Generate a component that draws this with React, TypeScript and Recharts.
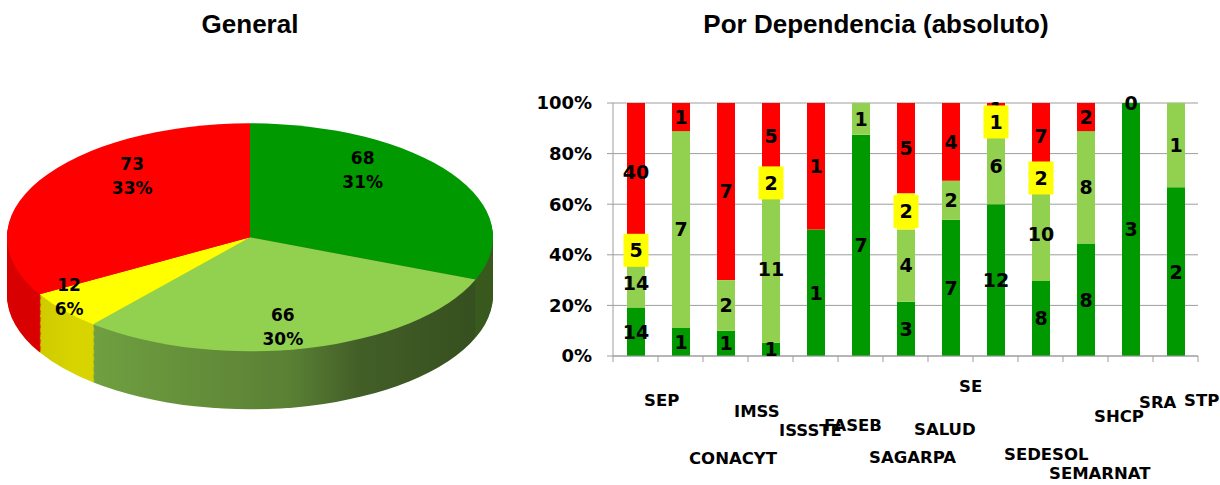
import React from 'react';
import { PieChart, Pie, Cell, BarChart, Bar, XAxis, YAxis, CartesianGrid, LabelList } from 'recharts';

// ---------- Data: "General" ----------
const pieNames = ['Cumple', 'Cumple parcialmente', 'En proceso', 'No cumple'];
const pieValues = [68, 66, 12, 73];
const piePercentLabels = ['31%', '30%', '6%', '33%'];

// ---------- Data: "Por Dependencia (absoluto)" ----------
const categories = ['SEP', 'CONACYT', 'IMSS', 'ISSSTE', 'FASEB', 'SAGARPA', 'SALUD', 'SE', 'SEDESOL', 'SEMARNAT', 'SHCP', 'SRA', 'STP'];
const cumple = [14, 1, 1, 1, 1, 7, 3, 7, 12, 8, 8, 3, 2];
const parcial = [14, 7, 2, 11, null, 1, 4, 2, 6, 10, 8, null, 1];
const enProceso = [5, null, null, 2, null, null, 2, null, 1, 2, null, null, null];
const noCumple = [40, 1, 7, 5, 1, null, 5, 4, 1, 7, 2, 0, null];
const yTicks = [0, 0.2, 0.4, 0.6, 0.8, 1];

// ---------- Styles ----------
const GREEN = '#009900';
const LIGHT = '#92d050';
const YELLOW = '#ffff00';
const RED = '#ff0000';
const AXIS_GRAY = '#9d9d9d';
const TOP_COLORS = [GREEN, LIGHT, YELLOW, RED];
const SIDE_COLORS = ['#3a5a1f', 'url(#sideLight)', 'url(#sideYellow)', '#d80000'];
const FONT = '"DejaVu Sans", "Noto Sans", sans-serif';

const pieData = pieNames.map((name, i) => ({ name, value: pieValues[i] }));
const barData = categories.map((name, i) => ({
  name,
  cumple: cumple[i],
  parcial: parcial[i],
  enProceso: enProceso[i],
  noCumple: noCumple[i],
}));

// ---------- Pie geometry (pseudo 3D: squashed + extruded) ----------
const PIE_R = 243;
const PIE_CX = 250;
const PIE_CY = 250;
const SQUASH = 114 / 243;
const PIE_SCREEN_CY = 237;
const PIE_TOP = PIE_SCREEN_CY - PIE_CY * SQUASH;
const DEPTH = 58 / SQUASH;
const LAYERS = 50;
const layerOffsets = Array.from({ length: LAYERS }, (_, i) => (DEPTH * (LAYERS - i)) / LAYERS);
const LABEL_LIFT = 10;

const renderPieLabel = (props: any) => {
  const { cx, cy, midAngle, outerRadius, percent, index, value } = props;
  const rad = (midAngle * Math.PI) / 180;
  const small = percent < 0.1;
  const fx = small ? 0.97 : 0.56;
  const fy = small ? 0.95 : 0.9;
  const X = cx + fx * outerRadius * Math.cos(rad);
  const Y = cy - fy * outerRadius * Math.sin(rad) - LABEL_LIFT / SQUASH;
  return (
    <text
      key={`pl-${index}`}
      transform={`translate(${X},${Y}) scale(1,${1 / SQUASH})`}
      textAnchor="middle"
      fill="#000"
      fontFamily={FONT}
      fontWeight="bold"
      fontSize={17}
    >
      <tspan x={0} y={-6}>{value}</tspan>
      <tspan x={0} y={18}>{piePercentLabels[index]}</tspan>
    </text>
  );
};

// ---------- Bar labels ----------
const renderSegLabel = (props: any) => {
  const { x, y, width, height, value } = props;
  if (value === null || value === undefined) return null;
  const cx = Number(x) + Number(width) / 2;
  const cy = Number(y) + Number(height) / 2;
  return (
    <text x={cx} y={cy} dy="0.36em" textAnchor="middle" fill="#000" fontFamily={FONT} fontWeight="bold" fontSize={19}>
      {value}
    </text>
  );
};

const renderBoxLabel = (props: any) => {
  const { x, y, width, height, value } = props;
  if (value === null || value === undefined) return null;
  const cx = Number(x) + Number(width) / 2;
  const cy = Number(y) + Number(height) / 2;
  return (
    <g>
      <rect x={cx - 12.5} y={cy - 16.5} width={25} height={33} fill={YELLOW} />
      <text x={cx} y={cy} dy="0.36em" textAnchor="middle" fill="#000" fontFamily={FONT} fontWeight="bold" fontSize={19}>
        {value}
      </text>
    </g>
  );
};

// ---------- X axis tick ----------
let measureCtx: CanvasRenderingContext2D | null = null;
const X_FONT_SIZE = 16.5;
function textWidth(s: string): number {
  if (!measureCtx) measureCtx = document.createElement('canvas').getContext('2d');
  if (!measureCtx) return s.length * 11;
  measureCtx.font = `bold ${X_FONT_SIZE}px "DejaVu Sans"`;
  return measureCtx.measureText(s).width;
}
const BAND_FALLBACK = 45;

const CategoryTick = (props: any) => {
  const { x, y, payload, index } = props;
  const half = payload && payload.offset ? payload.offset : BAND_FALLBACK / 2;
  const label = String(payload.value);
  const w = textWidth(label);
  const centerY = y + 5 + w * 1.1;
  return (
    <g>
      <line x1={x - half} x2={x - half} y1={y} y2={y + 6} stroke={AXIS_GRAY} />
      {index === categories.length - 1 && <line x1={x + half} x2={x + half} y1={y} y2={y + 6} stroke={AXIS_GRAY} />}
      <text x={x + 8.5} y={centerY} dy="0.36em" textAnchor="start" fill="#000" fontFamily={FONT} fontWeight="bold" fontSize={X_FONT_SIZE}>
        {label}
      </text>
    </g>
  );
};

const titleStyle = (center: number): React.CSSProperties => ({
  position: 'absolute',
  left: center - 300,
  width: 600,
  top: 11,
  textAlign: 'center',
  fontFamily: '"Liberation Sans", Arial, sans-serif',
  fontWeight: 'bold',
  fontSize: 26,
  lineHeight: '26px',
  color: '#000',
});

export default function App() {
  return (
    <div style={{ position: 'absolute', left: 0, top: 0, width: 1220, height: 485, background: '#fff', overflow: 'hidden' }}>
      <div style={titleStyle(250)}>General</div>
      <div style={titleStyle(876)}>Por Dependencia (absoluto)</div>

      <div
        style={{
          position: 'absolute',
          left: 0,
          top: PIE_TOP,
          width: 500,
          height: 640,
          transform: `scaleY(${SQUASH})`,
          transformOrigin: '0 0',
        }}
      >
        <PieChart width={500} height={640} margin={{ top: 0, right: 0, bottom: 0, left: 0 }}>
          <defs>
            <linearGradient id="sideLight" gradientUnits="userSpaceOnUse" x1={70} y1={0} x2={470} y2={0}>
              <stop offset="0" stopColor="#72a342" />
              <stop offset="0.55" stopColor="#5a8034" />
              <stop offset="0.72" stopColor="#435f28" />
              <stop offset="1" stopColor="#37501f" />
            </linearGradient>
            <linearGradient id="sideYellow" gradientUnits="userSpaceOnUse" x1={20} y1={0} x2={75} y2={0}>
              <stop offset="0" stopColor="#c9c600" />
              <stop offset="1" stopColor="#d8d400" />
            </linearGradient>
          </defs>
          {layerOffsets.map((off, li) => (
            <Pie
              key={`layer-${li}`}
              data={pieData}
              dataKey="value"
              nameKey="name"
              cx={PIE_CX}
              cy={PIE_CY + off}
              outerRadius={PIE_R}
              innerRadius={0}
              startAngle={90}
              endAngle={-270}
              stroke="none"
              isAnimationActive={false}
              labelLine={false}
            >
              {pieData.map((d, i) => (
                <Cell key={`s-${li}-${i}`} fill={SIDE_COLORS[i]} stroke="none" />
              ))}
            </Pie>
          ))}
          <Pie
            data={pieData}
            dataKey="value"
            nameKey="name"
            cx={PIE_CX}
            cy={PIE_CY}
            outerRadius={PIE_R}
            innerRadius={0}
            startAngle={90}
            endAngle={-270}
            stroke="none"
            isAnimationActive={false}
            labelLine={false}
            label={renderPieLabel}
          >
            {pieData.map((d, i) => (
              <Cell key={`t-${i}`} fill={TOP_COLORS[i]} stroke="none" />
            ))}
          </Pie>
        </PieChart>
      </div>

      <div style={{ position: 'absolute', left: 520, top: 0 }}>
        <BarChart
          width={700}
          height={485}
          data={barData}
          stackOffset="expand"
          barSize={18}
          margin={{ top: 103, right: 22, bottom: 0, left: 0 }}
        >
          <CartesianGrid vertical={false} stroke={AXIS_GRAY} />
          <XAxis
            dataKey="name"
            height={129}
            interval={0}
            tickLine={false}
            tickSize={0}
            tickMargin={0}
            stroke={AXIS_GRAY}
            tick={<CategoryTick />}
          />
          <YAxis
            width={93}
            domain={[0, 1]}
            ticks={yTicks}
            tickSize={6}
            tickMargin={15}
            stroke={AXIS_GRAY}
            tickFormatter={(v: number) => `${Math.round(v * 100)}%`}
            tick={{ fill: '#000', fontSize: 18, fontWeight: 'bold', fontFamily: FONT }}
          />
          <Bar dataKey="cumple" stackId="a" fill={GREEN} isAnimationActive={false}>
            <LabelList dataKey="cumple" content={renderSegLabel} />
          </Bar>
          <Bar dataKey="parcial" stackId="a" fill={LIGHT} isAnimationActive={false}>
            <LabelList dataKey="parcial" content={renderSegLabel} />
          </Bar>
          <Bar dataKey="enProceso" stackId="a" fill={YELLOW} isAnimationActive={false}>
            <LabelList dataKey="enProceso" content={renderBoxLabel} zIndex={2100} />
          </Bar>
          <Bar
            dataKey="noCumple"
            stackId="a"
            fill={RED}
            isAnimationActive={false}
            minPointSize={(v: number, i: number) => (noCumple[i] === 0 ? 0.01 : 0)}
          >
            <LabelList dataKey="noCumple" content={renderSegLabel} />
          </Bar>
        </BarChart>
      </div>
    </div>
  );
}
